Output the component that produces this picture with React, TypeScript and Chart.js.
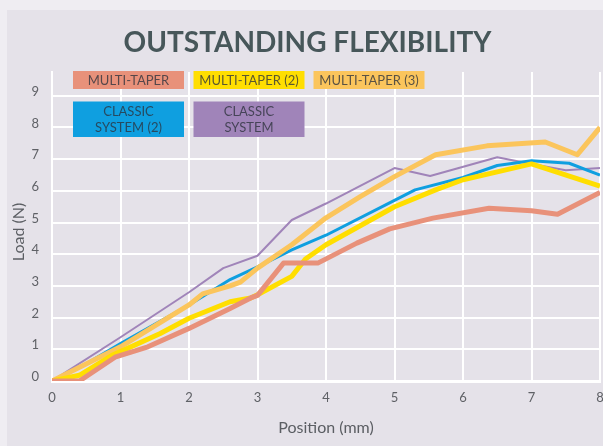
import React, { useEffect, useRef } from "react";
import { Chart, registerables } from "chart.js";

Chart.register(...registerables);

// ---- data ----
const xTicks = [0, 1, 2, 3, 4, 5, 6, 7, 8];
const yTicks = [0, 1, 2, 3, 4, 5, 6, 7, 8, 9];

const multiTaperX = [0, 0.4, 0.92, 1.4, 2.0, 2.6, 2.9, 3.0, 3.38, 3.88, 4.45, 4.93, 5.56, 6.38, 7.0, 7.38, 8.0];
const multiTaperY = [0, 0, 0.75, 1.08, 1.66, 2.29, 2.62, 2.7, 3.72, 3.72, 4.35, 4.8, 5.14, 5.45, 5.37, 5.26, 5.95];

const multiTaper2X = [0, 0.4, 0.87, 1.58, 2.0, 2.6, 2.9, 3.0, 3.5, 3.7, 4.0, 5.0, 5.6, 6.0, 6.5, 7.0, 8.0];
const multiTaper2Y = [0, 0.18, 0.8, 1.5, 1.98, 2.5, 2.62, 2.72, 3.3, 3.85, 4.3, 5.5, 6.03, 6.35, 6.6, 6.85, 6.15];

const multiTaper3X = [0, 1.0, 2.0, 2.2, 2.6, 2.75, 3.0, 3.5, 4.0, 4.5, 5.0, 5.6, 6.35, 7.2, 7.67, 8.0];
const multiTaper3Y = [0, 1.08, 2.4, 2.75, 3.0, 3.12, 3.56, 4.3, 5.15, 5.82, 6.45, 7.14, 7.42, 7.54, 7.14, 8.0];

const classic2X = [0, 0.4, 1.0, 2.0, 2.6, 3.0, 3.5, 4.0, 5.0, 5.3, 6.0, 6.5, 7.0, 7.55, 8.0];
const classic2Y = [0, 0.42, 1.18, 2.4, 3.2, 3.6, 4.14, 4.6, 5.7, 6.03, 6.42, 6.8, 6.95, 6.87, 6.5];

const classicX = [0, 1.0, 2.0, 2.5, 3.0, 3.5, 4.0, 5.0, 5.52, 6.5, 7.0, 7.5, 8.0];
const classicY = [0, 1.38, 2.8, 3.56, 3.95, 5.08, 5.6, 6.72, 6.47, 7.06, 6.85, 6.65, 6.72];

const seriesLabels = ["MULTI-TAPER", "MULTI-TAPER (2)", "MULTI-TAPER (3)", "CLASSIC SYSTEM (2)", "CLASSIC SYSTEM"];

const toPoints = (xs: number[], ys: number[]) => xs.map((x, i) => ({ x, y: ys[i] }));

// colours / styles
const C_SALMON = "#e8917a";
const C_YELLOW = "#ffde00";
const C_ORANGE = "#fbc55c";
const C_BLUE = "#0f9fe0";
const C_PURPLE = "#a084b9";

// custom legend boxes: [datasetIndex, dx, dy, w, h, lines]
const legendLayout: [number, number, number, number, number, string[]][] = [
  [0, 21, -1, 111, 18, ["MULTI-TAPER"]],
  [1, 141.5, -1, 111, 18, ["MULTI-TAPER (2)"]],
  [2, 261.5, -1, 111, 18, ["MULTI-TAPER (3)"]],
  [3, 21, 29.5, 111, 35.5, ["CLASSIC", "SYSTEM (2)"]],
  [4, 141.5, 29.5, 111, 35.5, ["CLASSIC", "SYSTEM"]],
];

const boxLegendPlugin = {
  id: "boxLegend",
  afterDatasetsDraw(chart: any) {
    const { ctx, chartArea } = chart;
    ctx.save();
    // y-axis title
    ctx.save();
    ctx.translate(11.5, 232);
    ctx.rotate(-Math.PI / 2);
    ctx.fillStyle = "#5b5e63";
    ctx.font = "16px Lato";
    ctx.textAlign = "center";
    ctx.textBaseline = "middle";
    ctx.fillText("Load (N)", 0, 0);
    ctx.restore();

    for (const [di, dx, dy, w, h, lines] of legendLayout) {
      const ds = chart.data.datasets[di];
      const x = chartArea.left + dx;
      const y = chartArea.top + dy;
      ctx.fillStyle = ds.legendColor || ds.borderColor;
      ctx.fillRect(x, y, w, h);
      ctx.fillStyle = "rgba(45,50,60,0.78)";
      ctx.font = "13px Lato";
      ctx.textAlign = "center";
      ctx.textBaseline = "middle";
      const lh = 15.3;
      const cy = y + h / 2 + 0.5;
      lines.forEach((t, i) => {
        ctx.fillText(t, x + w / 2, cy + (i - (lines.length - 1) / 2) * lh);
      });
    }
    ctx.restore();
  },
};

export default function App() {
  const ref = useRef<HTMLCanvasElement | null>(null);

  useEffect(() => {
    if (!ref.current) return;
    Chart.defaults.font.family = "Lato";
    const chart = new Chart(ref.current, {
      type: "line",
      data: {
        datasets: [
          {
            label: seriesLabels[0],
            data: toPoints(multiTaperX, multiTaperY),
            borderColor: C_SALMON,
            borderWidth: 5,
          },
          {
            label: seriesLabels[1],
            data: toPoints(multiTaper2X, multiTaper2Y),
            borderColor: C_YELLOW,
            borderWidth: 5,
          },
          {
            label: seriesLabels[2],
            data: toPoints(multiTaper3X, multiTaper3Y),
            borderColor: C_ORANGE,
            borderWidth: 5,
          },
          {
            label: seriesLabels[3],
            data: toPoints(classic2X, classic2Y),
            borderColor: C_BLUE,
            borderWidth: 3,
          },
          {
            label: seriesLabels[4],
            data: toPoints(classicX, classicY),
            borderColor: C_PURPLE,
            borderWidth: 2,
          },
        ] as any,
      },
      options: {
        animation: false,
        responsive: false,
        parsing: false as any,
        elements: {
          point: { radius: 0, hoverRadius: 0 },
          line: { tension: 0, borderJoinStyle: "round", borderCapStyle: "butt", fill: false },
        },
        layout: { padding: { left: 8, right: 8, top: 0, bottom: 0 } },
        plugins: {
          legend: { display: false },
          tooltip: { enabled: false },
          title: {
            display: true,
            text: "OUTSTANDING FLEXIBILITY",
            color: "#47575a",
            font: { family: "Lato", size: 28, weight: "bold" },
            padding: { top: 26, bottom: 12.4 },
          },
        },
        scales: {
          x: {
            type: "linear",
            min: 0,
            max: 8,
            afterBuildTicks: (s: any) => {
              s.ticks = xTicks.map((v) => ({ value: v }));
            },
            afterFit: (s: any) => {
              s.height = 65;
              s.paddingLeft = 0;
              s.paddingRight = 0;
            },
            ticks: { color: "#5f6166", font: { size: 13 }, padding: 9, maxRotation: 0 },
            grid: { color: "#ffffff", lineWidth: 2, drawTicks: false },
            border: { color: "#ffffff", width: 3 },
            title: {
              display: true,
              text: "Position (mm)",
              color: "#5b5e63",
              font: { size: 16 },
              padding: { top: 0, bottom: 8.4 },
            },
          },
          y: {
            type: "linear",
            min: 0,
            max: 9.75,
            afterBuildTicks: (s: any) => {
              s.ticks = yTicks.map((v) => ({ value: v }));
            },
            afterFit: (s: any) => {
              s.width = 37;
            },
            ticks: { color: "#5f6166", font: { size: 13 }, padding: 13, labelOffset: -4 },
            grid: { color: "#ffffff", lineWidth: 2, drawTicks: false },
            border: { color: "#ffffff", width: 2 },
          },
        },
      },
      plugins: [boxLegendPlugin],
    } as any);
    return () => chart.destroy();
  }, []);

  return (
    <div
      style={{
        position: "fixed",
        left: 0,
        top: 0,
        width: 603,
        height: 446,
        overflow: "hidden",
        background: "#efedf2",
      }}
    >
      <div
        style={{
          position: "absolute",
          left: 7,
          top: 10,
          width: 610,
          height: 450,
          background: "#e5e2e9",
        }}
      />
      <canvas
        ref={ref}
        width={601}
        height={446}
        style={{ position: "absolute", left: 7, top: 0, width: 601, height: 446 }}
      />
    </div>
  );
}
